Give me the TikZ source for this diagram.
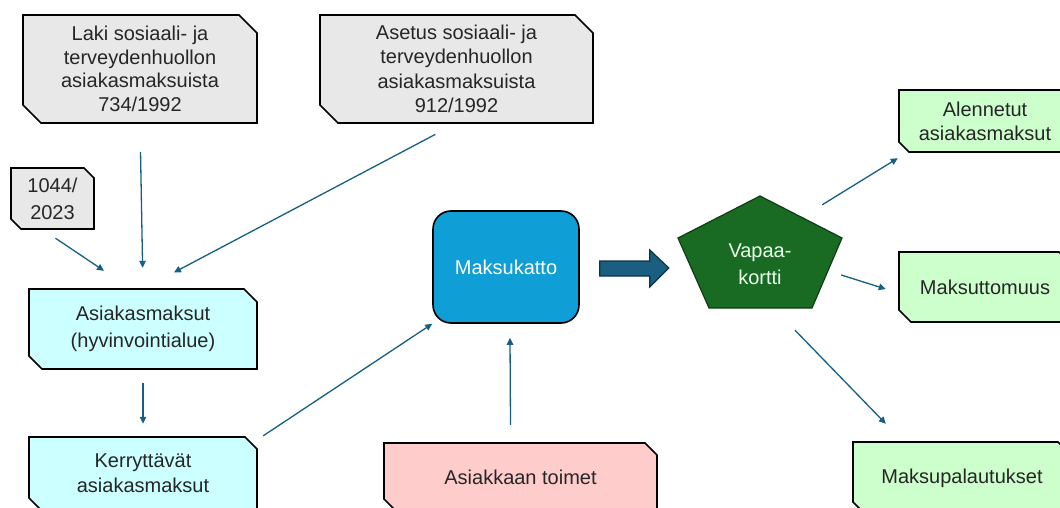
\documentclass[tikz,border=0pt]{standalone}
\usepackage{fontspec}
\setmainfont{Liberation Sans}
\usetikzlibrary{arrows.meta,calc}
\definecolor{conncol}{HTML}{156082}
\definecolor{grayfill}{HTML}{E8E8E8}
\definecolor{cyanfill}{HTML}{CCFFFF}
\definecolor{pinkfill}{HTML}{FFCCCC}
\definecolor{greenfill}{HTML}{CCFFCC}
\definecolor{blueacc}{HTML}{0F9ED5}
\definecolor{pentfill}{HTML}{196B24}
\definecolor{pentline}{HTML}{0E3D14}
\definecolor{fatfill}{HTML}{1A5E80}
\definecolor{fatline}{HTML}{0B3347}
\definecolor{txtcol}{HTML}{262626}
\tikzset{
  outl/.style={draw=black,line width=1.6pt,line join=miter},
  txt/.style={inner sep=0pt,align=center,text=txtcol},
  conn/.style={draw=conncol,line width=1.3pt,-{Triangle[length=7pt,width=6.5pt]}},
}
\newcommand\snipnode[9]{%
  \path[outl,fill=#7] (#2,#3) -- ({#4-#6},#3) -- (#4,{#3+#6}) -- (#4,#5) -- ({#2+#6},#5) -- (#2,{#5-#6}) -- cycle;
  \node[txt,minimum width={#4-#2},minimum height={#5-#3},font=\fontsize{20}{#8}\selectfont] (#1) at ({(#2+#4)/2},{(#3+#5)/2}) {#9};
}
\begin{document}
\begin{tikzpicture}[x=1pt,y=-1pt]
\useasboundingbox (0,0) rectangle (1060,508);
\clip (0,0) rectangle (1060,508);
\fill[white] (0,0) rectangle (1060,508);
% boxes
\snipnode{laki}{23}{15}{257}{123}{18}{grayfill}{23.7}{Laki sosiaali- ja\\terveydenhuollon\\asiakasmaksuista\\734/1992}
\snipnode{asetus}{320}{15}{593}{123}{18}{grayfill}{24.5}{Asetus sosiaali- ja\\terveydenhuollon\\asiakasmaksuista\\912/1992}
\snipnode{n1044}{11}{168}{94}{229}{10}{grayfill}{27}{1044/\\2023}
\snipnode{asia}{29}{289}{257}{369}{13}{cyanfill}{27}{Asiakasmaksut\\(hyvinvointialue)}
\snipnode{kerr}{29}{437}{257}{510}{12}{cyanfill}{25}{Kerryttävät\\asiakasmaksut}
\snipnode{toimet}{384}{443}{657}{511}{12}{pinkfill}{24}{Asiakkaan toimet}
\snipnode{alen}{899}{90}{1071}{152}{10}{greenfill}{24}{Alennetut\\asiakasmaksut}
\snipnode{maksut}{899}{252}{1071}{322}{12}{greenfill}{24}{Maksuttomuus}
\snipnode{palaut}{853}{442}{1071}{515}{13}{greenfill}{24}{Maksupalautukset}
% Maksukatto
\node[draw=black,line width=1.6pt,fill=blueacc,rounded corners=18pt,minimum width=146,minimum height=112,text=white,font=\fontsize{20}{24}\selectfont] (maks) at (506,267) {Maksukatto};
% pentagon
\path[draw=pentline,line width=1.2pt,fill=pentfill,line join=miter] (760,196) -- (842,238) -- (812,308) -- (709,308) -- (678,238) -- cycle;
\node[inner sep=0pt,align=center,text=white!92!green,minimum width=164,minimum height=112,font=\fontsize{20}{27}\selectfont] (pent) at (760,264) {Vapaa-\\kortti};
% fat arrow
\path[fill=fatfill,draw=fatline,line width=1.2pt,line join=miter]
  ($(maks.east)+(20,-6)$) -- ++(50,0) -- ++(0,-11) -- ++(19,18) -- ++(-19,19) -- ++(0,-11) -- ++(-50,0) -- cycle;
% connectors
\draw[conn,shorten <=29pt,shorten >=21pt] (laki.south) -- (asia.north);
\draw[conn,shorten <=24pt,shorten >=35pt] (asetus.south) -- (asia.north);
\draw[conn] ($(n1044.south)+(3,9)$) -- ($(asia.north)+(-39,-18)$);
\draw[conn,shorten <=14pt,shorten >=13pt] (asia.south) -- (kerr.north);
\draw[conn] ($(kerr.north east)+(6,-1)$) -- ($(maks.south west)+(0,0)$);
\draw[conn] ($(toimet.north)+(-10,-18)$) -- ($(maks.south)+(4,14)$);
\draw[conn] ($(pent.north east)+(-20,-3)$) -- ($(alen.south west)+(-1,6)$);
\draw[conn] ($(pent.east)+(-1,11)$) -- ($(maksut.west)+(-13,2)$);
\draw[conn] ($(pent.south)+(35,10)$) -- ($(palaut.north west)+(33,-18)$);
\end{tikzpicture}
\end{document}
